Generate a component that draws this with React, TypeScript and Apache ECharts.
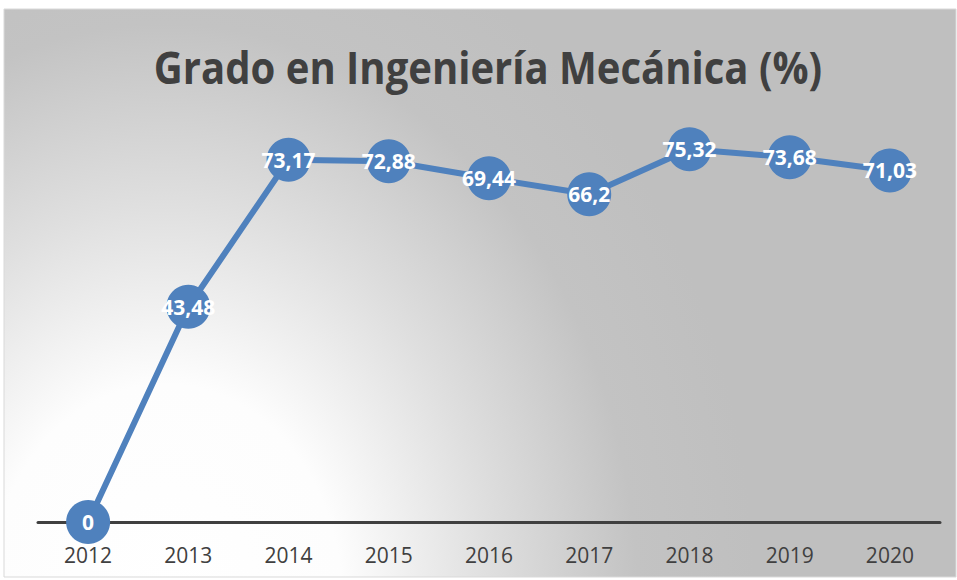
import React, { useEffect, useRef } from "react";
import * as echarts from "echarts";

const years = ["2012", "2013", "2014", "2015", "2016", "2017", "2018", "2019", "2020"];
const values = [0, 43.48, 73.17, 72.88, 69.44, 66.2, 75.32, 73.68, 71.03];
const titleText = "Grado en Ingeniería Mecánica (%)";

export default function App() {
  const ref = useRef<HTMLDivElement>(null);
  useEffect(() => {
    document.body.style.margin = "0";
    const chart = echarts.init(ref.current!, null, { renderer: "svg" });
    chart.setOption({
      animation: false,
      graphic: [
        {
          type: "rect",
          z: -10,
          silent: true,
          shape: { x: 4, y: 9, width: 952, height: 568 },
          style: { fill: "#bfbfbf" },
        },
        {
          type: "ellipse",
          z: -9,
          silent: true,
          shape: { cx: 165, cy: 600, rx: 590, ry: 720 },
          style: {
            fill: new echarts.graphic.RadialGradient(0.5, 0.5, 0.5, [
              { offset: 0, color: "#ffffff" },
              { offset: 0.3, color: "#fdfdfd" },
              { offset: 0.55, color: "#dfdfdf" },
              { offset: 0.8, color: "#c3c3c3" },
              { offset: 1, color: "#bfbfbf" },
            ]),
          },
        },
        {
          type: "rect",
          z: -8,
          silent: true,
          shape: { x: 0, y: 0, width: 957, height: 9 },
          style: { fill: "#ffffff" },
        },
        {
          type: "rect",
          z: -8,
          silent: true,
          shape: { x: 0, y: 0, width: 4, height: 580 },
          style: { fill: "#ffffff" },
        },
        {
          type: "rect",
          z: -8,
          silent: true,
          shape: { x: 0, y: 577, width: 957, height: 3 },
          style: { fill: "#ffffff" },
        },
        {
          type: "rect",
          z: -7,
          silent: true,
          shape: { x: 4, y: 9, width: 952, height: 568 },
          style: { fill: "none", stroke: "#d9d9d9", lineWidth: 1 },
        },
        {
          type: "text",
          x: 488,
          y: 66,
          scaleX: 0.89,
          z: 10,
          silent: true,
          style: {
            text: titleText,
            fontFamily: "Open Sans",
            fontWeight: "bold",
            fontSize: 45,
            fill: "#404040",
            textAlign: "center",
            textVerticalAlign: "middle",
          },
        },
      ],
      grid: { left: 38, right: 17, top: 126, bottom: 58 },
      xAxis: {
        type: "category",
        data: years,
        boundaryGap: true,
        axisLine: { lineStyle: { color: "#404040", width: 3 } },
        axisTick: { show: false },
        axisLabel: {
          fontFamily: "Open Sans",
          fontSize: 21,
          color: "#404040",
          margin: 22,
        },
      },
      yAxis: {
        type: "value",
        min: 0,
        max: 80,
        show: false,
        splitLine: { show: false },
      },
      series: [
        {
          type: "line",
          data: values,
          symbol: "circle",
          symbolSize: 44,
          z: 5,
          itemStyle: { color: "#4f81bd" },
          lineStyle: { color: "#4f81bd", width: 6 },
          label: {
            show: true,
            position: "inside",
            color: "#ffffff",
            fontFamily: "Open Sans",
            fontWeight: "bold",
            fontSize: 21,
            formatter: (p: any) => String(p.value).replace(".", ","),
          },
        },
      ],
    });
    return () => chart.dispose();
  }, []);
  return <div ref={ref} style={{ width: 957, height: 580 }} />;
}
